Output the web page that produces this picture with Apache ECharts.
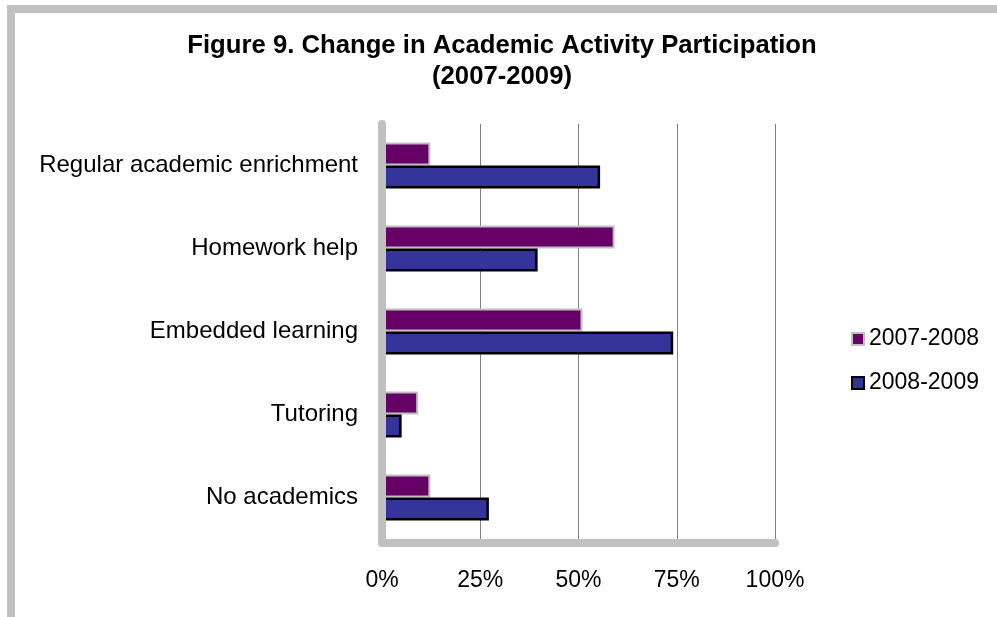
<!DOCTYPE html>
<html>
<head>
<meta charset="utf-8">
<script src="https://cdn.jsdelivr.net/npm/echarts@6/dist/echarts.min.js"></script>
<style>
  html, body { margin: 0; padding: 0; background: #ffffff; }
  #chart { width: 997px; height: 617px; }
</style>
</head>
<body>
<div id="chart"></div>
<script>
// Academic activity participation, share of programs (%)
const categories = [
  'Regular academic enrichment',
  'Homework help',
  'Embedded learning',
  'Tutoring',
  'No academics'
];
const seriesNames = ['2007-2008', '2008-2009'];
const values2007 = [12.3, 59.2, 51.0, 9.2, 12.3];
const values2008 = [55.5, 39.6, 74.1, 5.0, 27.2];
const xTicks = [0, 25, 50, 75, 100];

const FONT = '"Liberation Sans", Arial, sans-serif';
const chart = echarts.init(document.getElementById('chart'), null, { renderer: 'canvas' });

chart.setOption({
  animation: false,
  backgroundColor: '#ffffff',
  textStyle: { fontFamily: FONT, color: '#000000' },
  graphic: [
    {
      // outer chart frame (top and left edges visible)
      type: 'rect',
      shape: { x: 11, y: 9, width: 1200, height: 800 },
      style: { fill: 'none', stroke: '#c0c0c0', lineWidth: 8 },
      silent: true,
      z: 0
    },
    {
      type: 'text',
      x: 502,
      y: 30,
      style: {
        text: 'Figure 9. Change in Academic Activity Participation\n(2007-2009)',
        font: 'bold 25.7px ' + FONT,
        fill: '#000000',
        textAlign: 'center',
        textVerticalAlign: 'top',
        lineHeight: 31
      },
      z: 10
    }
  ],
  grid: { left: 382, top: 124, width: 393, height: 415, containLabel: false },
  legend: {
    orient: 'vertical',
    left: 846,
    top: 322,
    itemWidth: 12,
    itemHeight: 12,
    itemGap: 20,
    icon: 'rect',
    data: seriesNames,
    textStyle: { fontSize: 23, lineHeight: 24, fontFamily: FONT, color: '#000000' }
  },
  xAxis: {
    type: 'value',
    min: xTicks[0],
    max: xTicks[xTicks.length - 1],
    interval: 25,
    offset: 4,
    axisLine: { show: true, lineStyle: { color: '#c0c0c0', width: 8 } },
    axisTick: { show: false },
    axisLabel: {
      margin: 26,
      fontSize: 23,
      color: '#000000',
      fontFamily: FONT,
      formatter: '{value}%'
    },
    splitLine: { show: true, lineStyle: { color: '#808080', width: 1 } }
  },
  yAxis: {
    type: 'category',
    data: categories,
    inverse: true,
    z: 5,
    axisLine: { show: true, lineStyle: { color: '#c0c0c0', width: 8 } },
    axisTick: { show: false },
    axisLabel: { margin: 24, fontSize: 24, color: '#000000', fontFamily: FONT },
    splitLine: { show: false }
  },
  series: [
    {
      name: seriesNames[0],
      type: 'bar',
      data: values2007,
      barWidth: 23,
      barGap: '0%',
      itemStyle: { color: '#660066', borderColor: '#c0c0c0', borderWidth: 2 }
    },
    {
      name: seriesNames[1],
      type: 'bar',
      data: values2008,
      barWidth: 23,
      barGap: '0%',
      itemStyle: { color: '#333399', borderColor: '#000000', borderWidth: 2.5 }
    }
  ]
});
</script>
</body>
</html>
